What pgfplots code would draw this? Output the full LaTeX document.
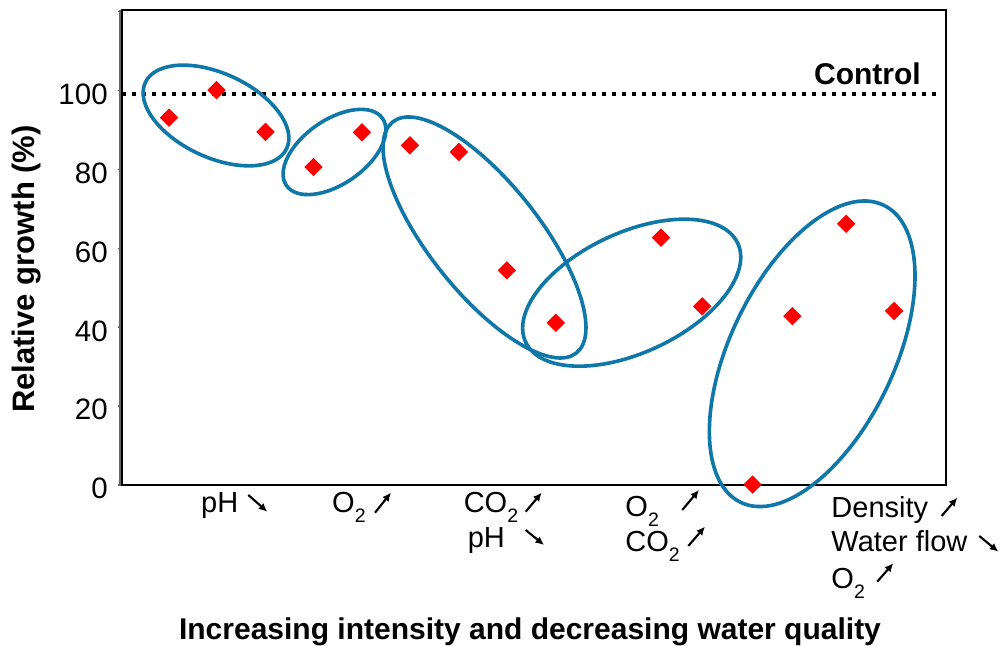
\documentclass[border=0pt]{standalone}
\usepackage{fontspec}
\setmainfont{Liberation Sans}
\usepackage{pgfplots}
\pgfplotsset{compat=1.18}
\usetikzlibrary{arrows.meta}
\definecolor{ringblue}{RGB}{16,120,168}
\newcommand{\sub}[1]{\raisebox{-4pt}{\fontsize{7.8}{8}\selectfont #1}}

\begin{document}
\begin{tikzpicture}
\useasboundingbox (0,0) rectangle (400pt,-258.4pt);
\begin{axis}[
  at={(48.8pt,-194pt)}, anchor=south west,
  scale only axis,
  width=329.6pt, height=190pt,
  xmin=0, xmax=17, ymin=0, ymax=120.4,
  xtick=\empty,
  ytick={0,20,...,120},
  yticklabels={0,20,40,60,80,100,{}},
  tick pos=left,
  tick align=outside,
  major tick length=1.4pt,
  major tick style={gray!80!black, line width=0.6pt},
  axis line style={black, line width=0.8pt},
  yticklabel style={font=\fontsize{11.8}{13}\selectfont, xshift=-0.8pt, yshift=-1.5pt},
  clip=false,
]
% control level
\addplot[black, line width=1.6pt, dash pattern=on 1.6pt off 2.4pt]
  coordinates {(0,99.1)(16.81,99.1)};
\addplot[red, only marks, mark=square*, mark size=2.4pt,
  mark options={rotate=45, draw=red, fill=red}]
  coordinates {(0.97,93.1)(1.95,100.1)(2.96,89.5)(3.95,80.6)(4.95,89.4)
               (5.94,86.1)(6.95,84.4)(7.94,54.4)(8.95,41.1)
               (11.12,62.7)(11.97,45.3)(13.01,0.1)(13.83,42.8)(14.94,66.2)(15.93,44.1)};
\end{axis}

% pixel coordinates of the reference image
\begin{scope}[x=0.4pt, y=-0.4pt]
\draw[gray!80!black, line width=0.8pt] (120,10) -- (120,485);

\begin{scope}[ringblue, line width=1.45pt]
\draw[rotate around={-25:(216,115.5)}] (216,115.5) ellipse [x radius=78, y radius=42];
\draw[rotate around={35:(334.5,152)}] (334.5,152) ellipse [x radius=58.6, y radius=32];
\draw[rotate around={-51.5:(484.5,237.5)}] (484.5,237.5) ellipse [x radius=147.6, y radius=55];
\draw[rotate around={25:(631.7,292.7)}] (631.7,292.7) ellipse [x radius=117, y radius=60];
\draw[rotate around={64.3:(812.2,353.8)}] (812.2,353.8) ellipse [x radius=164.9, y radius=82];
\end{scope}

\node[anchor=base, inner sep=0, font=\fontsize{12}{14}\selectfont\bfseries] at (867.5,85) {Control};

\node[rotate=90, font=\fontsize{12.4}{14}\selectfont\bfseries] at (26.5,269) {Relative growth (\%)};
\node[anchor=base, inner sep=0, font=\fontsize{12}{14}\selectfont\bfseries] at (530,640)
  {Increasing intensity and decreasing water quality};

\begin{scope}[every node/.style={anchor=base west, inner sep=0, font=\fontsize{11.6}{13}\selectfont},
  arr/.style={-{Latex[length=3.4pt,width=3.2pt]}, line width=0.85pt}]
\node at (200.7,512.7) {pH};
\draw[arr] (248.3,495) -- (267.3,511.7);
\node at (331.7,512.7) {O\sub{2}};
\draw[arr] (375,512.7) -- (391,492.7);
\node at (463.3,512.7) {CO\sub{2}};
\draw[arr] (525.7,511.7) -- (541.7,492.7);
\node at (467.3,547.3) {pH};
\draw[arr] (525.7,530) -- (544,545);
\node at (625,516.7) {O\sub{2}};
\draw[arr] (682.3,510) -- (699,490);
\node at (625,551.7) {CO\sub{2}};
\draw[arr] (688.3,546) -- (705,526.7);
\node at (831,517.3) {Density};
\draw[arr] (941.7,516) -- (957.3,497.7);
\node at (831,551.7) {Water flow};
\draw[arr] (979.3,536) -- (998.3,551.7);
\node at (831,588.3) {O\sub{2}};
\draw[arr] (877.3,581.7) -- (893.3,563.3);
\end{scope}
\end{scope}
\end{tikzpicture}
\end{document}
